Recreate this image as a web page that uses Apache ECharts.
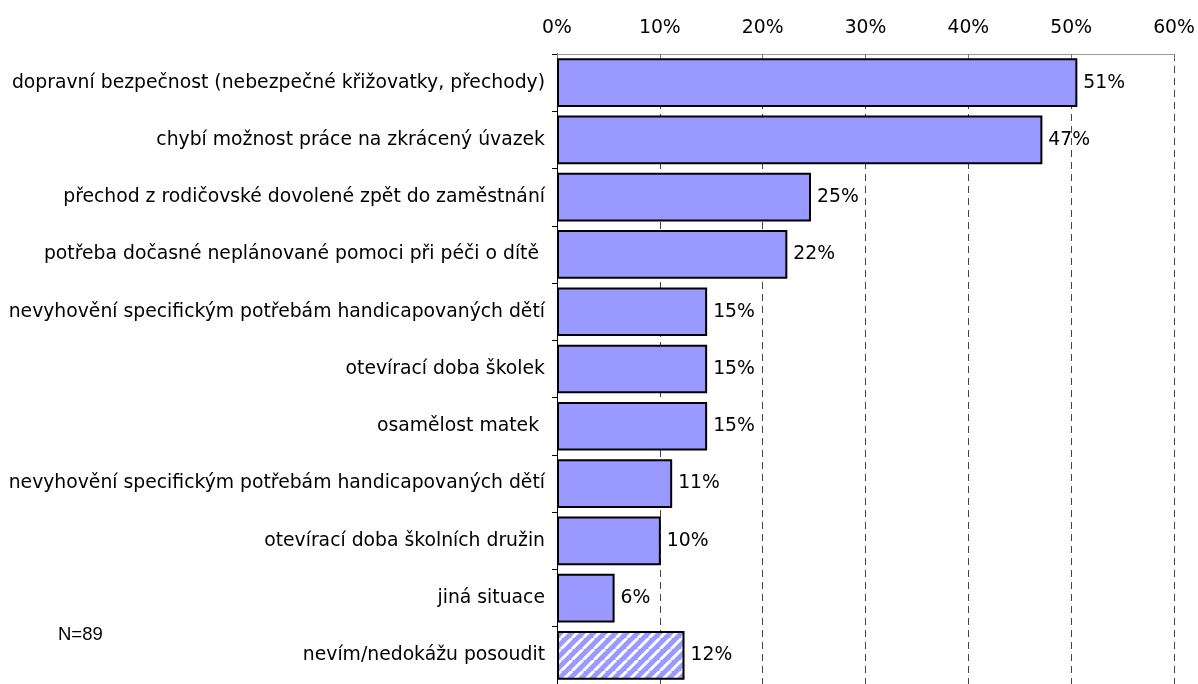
<!DOCTYPE html>
<html>
<head>
<meta charset="utf-8">
<script src="https://cdn.jsdelivr.net/npm/echarts@6/dist/echarts.min.js"></script>
<style>
  html, body { margin: 0; padding: 0; background: #fff; }
  #main { width: 1198px; height: 684px; }
</style>
</head>
<body>
<div id="main"></div>
<script>
// kategorie (shora dolů)
var categories = [
    'dopravní bezpečnost (nebezpečné křižovatky, přechody)',
    'chybí možnost práce na zkrácený úvazek',
    'přechod z rodičovské dovolené zpět do zaměstnání',
    'potřeba dočasné neplánované pomoci při péči o dítě ',
    'nevyhovění specifickým potřebám handicapovaných dětí',
    'otevírací doba školek',
    'osamělost matek ',
    'nevyhovění specifickým potřebám handicapovaných dětí',
    'otevírací doba školních družin',
    'jiná situace',
    'nevím/nedokážu posoudit'
];
// podíly v %
var values = [50.6, 47.2, 24.7, 22.4, 14.6, 14.6, 14.6, 11.2, 10.1, 5.6, 12.4];
var xTicks = [0, 10, 20, 30, 40, 50, 60];

var fontName = '"DejaVu Sans", Verdana, sans-serif';
var fs = 18.8;

// šrafování pro poslední sloupec
var hatch = document.createElement('canvas');
hatch.width = 11;
hatch.height = 11;
var ctx = hatch.getContext('2d');
ctx.fillStyle = '#9999FF';
ctx.fillRect(0, 0, 11, 11);
ctx.strokeStyle = '#ffffff';
ctx.lineWidth = 3;
for (var k = -1; k <= 1; k++) {
    ctx.beginPath();
    ctx.moveTo(k * 11, 11);
    ctx.lineTo(k * 11 + 11, 0);
    ctx.stroke();
}

var myChart = echarts.init(document.getElementById('main'));

var barData = values.map(function (v, i) {
    var item = { value: v };
    if (i === values.length - 1) {
        item.itemStyle = { color: { image: hatch, repeat: 'repeat' } };
    }
    return item;
});

var option = {
    animation: false,
    textStyle: { fontFamily: fontName },
    grid: { left: 557, right: 24, top: 54, bottom: -3, containLabel: false },
    xAxis: {
        type: 'value',
        position: 'top',
        min: xTicks[0],
        max: xTicks[xTicks.length - 1],
        interval: 10,
        axisLine: { show: true, lineStyle: { color: '#999', width: 1 } },
        axisTick: { show: true, inside: true, length: 5, lineStyle: { color: '#777' } },
        axisLabel: { formatter: '{value}%', color: '#000', fontSize: fs, margin: 16, fontFamily: fontName },
        splitLine: { show: true, lineStyle: { color: '#444', type: [7, 5], width: 1 } }
    },
    yAxis: {
        type: 'category',
        inverse: true,
        data: categories,
        axisLine: { show: true, lineStyle: { color: '#000', width: 1 } },
        axisTick: { show: true, length: 5, lineStyle: { color: '#000' } },
        axisLabel: { color: '#000', fontSize: fs, margin: 12, fontFamily: fontName }
    },
    graphic: [{
        type: 'text',
        x: 58,
        y: 635,
        style: {
            text: 'N=89',
            fill: '#000',
            font: '18.5px "Liberation Sans", Arial, sans-serif',
            verticalAlign: 'middle'
        }
    }],
    series: [{
        type: 'bar',
        data: barData,
        barCategoryGap: '15%',
        itemStyle: { color: '#9999FF', borderColor: '#000', borderWidth: 2 },
        label: {
            show: true,
            position: 'right',
            distance: 6,
            color: '#000',
            fontSize: fs,
            fontFamily: fontName,
            formatter: function (p) { return Math.round(p.value) + '%'; }
        }
    }]
};

myChart.setOption(option);
</script>
</body>
</html>
